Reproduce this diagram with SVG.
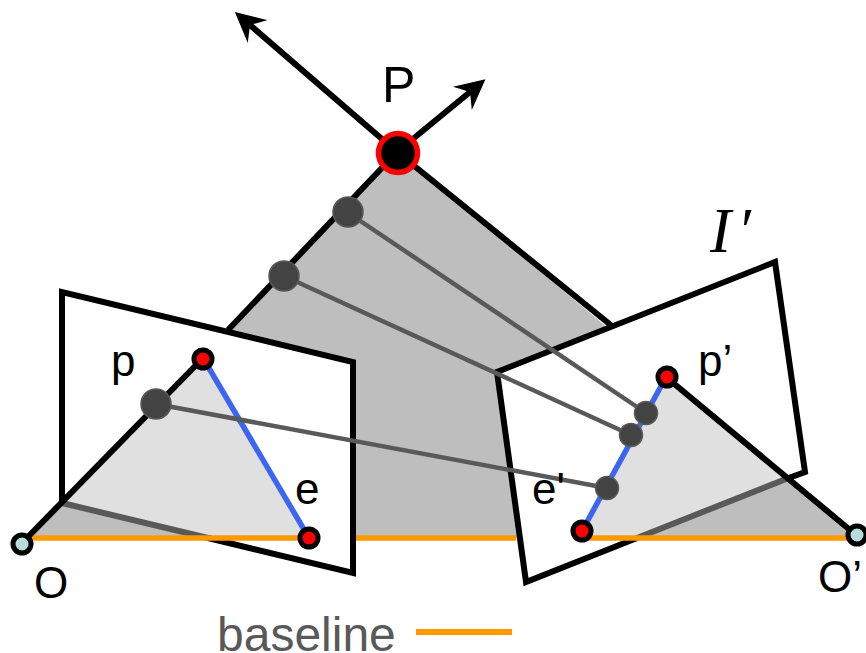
<svg xmlns="http://www.w3.org/2000/svg" width="866" height="653" viewBox="0 0 866 653">
<style>
.t{font-family:"Liberation Sans",Arial,sans-serif;font-size:44px;fill:#000}
.k{fill:none;stroke:#000;stroke-width:6}
.g{fill:none;stroke:#595959;stroke-width:4.5}
.g2{fill:none;stroke:#595959;stroke-width:6}
.o{fill:none;stroke:#ff9900;stroke-width:5.5}
.b{fill:none;stroke:#3c66f0;stroke-width:5.5}
.r{fill:#f00;stroke:#000;stroke-width:5}
.c{fill:#b7dcdc;stroke:#000;stroke-width:5}
.d{fill:#434343;stroke:#595959;stroke-width:1.5}
</style>
<defs>
<marker id="ah" markerUnits="userSpaceOnUse" markerWidth="30" markerHeight="30" refX="10" refY="15" orient="auto" viewBox="0 0 30 30">
<path d="M0 0L30 15L0 30L10 15Z" fill="#000"/>
</marker>
</defs>
<g id="epipolar-plane">
<path d="M22 543L397 152L856 535L856 538L22 538Z" fill="#bebebe"/>
</g>
<g id="image-plane-left">
<path d="M62 292L353 362L353 573L62 503Z" fill="#fff"/>
<path d="M62 503L203 358L309 538L208 538Z" fill="#e0e0e0"/>
</g>
<g id="image-plane-right">
<path d="M497 372L775 262L805 472L526 582Z" fill="#fff"/>
<path d="M666 377L582 531L582 538L637 538L786 479Z" fill="#e0e0e0"/>
</g>
<g id="connectors">
<path class="k" d="M228 330L397 152"/>
<path class="k" d="M397 152L612 326"/>
<path class="o" d="M353 538H516"/>
<path class="k" d="M397 152L250 25" marker-end="url(#ah)"/>
<path class="k" d="M397 152L470 92" marker-end="url(#ah)"/>
<path class="k" d="M62 505L62 292L353 362L353 573L208 538"/>
<path class="k" d="M637 538L526 582L497 372L775 262L805 472L786 479"/>
<path class="g2" d="M62 503L208 538"/>
<path class="g2" d="M786 479L637 538"/>
<path class="o" d="M30 538H309"/>
<path class="o" d="M582 538H850"/>
<path class="k" d="M22 543L203 358"/>
<path class="k" d="M666 377L856 535"/>
<path class="b" d="M203 358L309 538"/>
<path class="b" d="M666 377L582 531"/>
<path class="g" d="M347 212L646 413"/>
<path class="g" d="M284 276L631 435"/>
<path class="g" d="M156 404L607 488"/>
</g>
<g id="P"><circle cx="398" cy="153" r="19.5" fill="#000" stroke="#f00" stroke-width="5.5"/><text class="t" x="382" y="102" style="font-size:50px">P</text></g>
<g id="X1"><circle class="d" cx="348" cy="212" r="15"/></g>
<g id="X2"><circle class="d" cx="284" cy="276" r="15"/></g>
<g id="X3"><circle class="d" cx="156" cy="404" r="15"/></g>
<g id="x1"><circle class="d" cx="646" cy="413" r="11.5"/></g>
<g id="x2"><circle class="d" cx="631" cy="435" r="11.5"/></g>
<g id="x3"><circle class="d" cx="607" cy="488" r="11.5"/></g>
<g id="p"><circle class="r" cx="203" cy="359" r="9"/><text class="t" x="111" y="376">p</text></g>
<g id="e"><circle class="r" cx="309" cy="538" r="9"/><text class="t" x="295" y="504">e</text></g>
<g id="p-prime"><circle class="r" cx="667" cy="377" r="9"/><text class="t" x="698" y="376">p’</text></g>
<g id="e-prime"><circle class="r" cx="582" cy="531" r="9"/><text class="t" x="532" y="504">e'</text></g>
<g id="O"><circle class="c" cx="22" cy="544" r="9"/><text class="t" x="34" y="598">O</text></g>
<g id="O-prime"><circle class="c" cx="857" cy="535" r="9"/><text class="t" x="818" y="592">O’</text></g>
<g id="I-prime"><text x="710" y="252" style="font-family:'Liberation Serif',serif;font-style:italic;font-size:63px">I<tspan dx="6">′</tspan></text></g>
<g id="legend">
<text x="217" y="651" style="font-family:'Liberation Sans',Arial,sans-serif;font-size:48px;fill:#595959">baseline</text>
<path class="o" style="stroke-width:6" d="M416 632H512"/>
</g>
</svg>
